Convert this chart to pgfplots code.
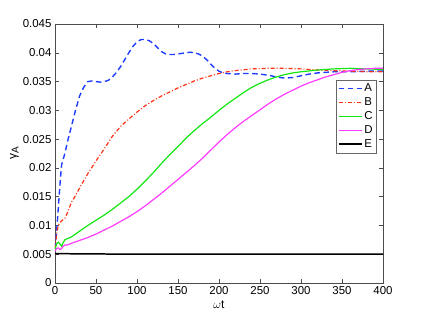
\documentclass[border=0pt]{standalone}
\usepackage{fontspec}
\setmainfont{Liberation Sans}
\usepackage{pgfplots}
\pgfplotsset{compat=1.18}
\definecolor{cA}{RGB}{30,60,255}
\definecolor{cB}{RGB}{255,50,20}
\definecolor{cC}{RGB}{20,230,20}
\definecolor{cD}{RGB}{255,60,255}
\begin{document}
\begin{tikzpicture}[font=\fontsize{11.5}{13}\selectfont]
\begin{axis}[
  scale only axis, width=328bp, height=259bp,
  xmin=0, xmax=400, ymin=0, ymax=0.045,
  xtick={0,50,...,400},
  ytick={0,0.005,0.01,0.015,0.02,0.025,0.03,0.035,0.04,0.045},
  yticklabels={0,0.005,0.01,0.015,0.02,0.025,0.03,0.035,0.04,0.045},
  scaled y ticks=false,
  tick align=inside, tick pos=both,
  major tick length=4bp,
  axis line style={black!70, line width=0.6pt},
  every tick/.style={black!70, line width=0.5pt},
  /pgf/number format/assume math mode=true,
  tick label style={font=\fontsize{11.5}{13}\selectfont},
  xlabel={\fontsize{12}{14}\selectfont$\omega$t},
  ylabel={\fontsize{12}{14}\selectfont γ\raisebox{-0.35ex}{\fontsize{10}{12}\selectfont A}},
  xlabel style={yshift=1bp},
  ylabel style={yshift=-3bp},
  legend style={at={(0.98,0.785)}, anchor=north east, draw=black!60, fill=white,
    font=\fontsize{11.5}{13}\selectfont, row sep=0.5bp, inner xsep=1.5bp, inner ysep=2bp},
  legend cell align=left,
  legend image code/.code={\draw[#1] plot coordinates {(0bp,0bp)(23bp,0bp)};},
]
\addplot[cA, line width=1.4pt, dash pattern=on 5.5bp off 3.5bp] coordinates {
(0,0.006)(2,0.009)(4,0.013)(6,0.017)(8,0.0205)(12,0.0225)(16,0.025)(20,0.0272)(25,0.030)(30,0.0325)(35,0.034)(40,0.035)(45,0.0351)(50,0.035)(55,0.0349)(60,0.0350)(65,0.0352)(70,0.0358)(75,0.0366)(80,0.0376)(85,0.0388)(90,0.0400)(95,0.0411)(100,0.0419)(105,0.0423)(110,0.0423)(115,0.0421)(120,0.0416)(125,0.0409)(130,0.0402)(135,0.0398)(140,0.0397)(145,0.0397)(150,0.0398)(155,0.0399)(160,0.0400)(165,0.0401)(170,0.0400)(175,0.0398)(180,0.0394)(185,0.0388)(190,0.0380)(195,0.0373)(200,0.0368)(205,0.0365)(210,0.0364)(220,0.0363)(230,0.0364)(240,0.0364)(250,0.0363)(260,0.0361)(270,0.0358)(280,0.0356)(290,0.0357)(300,0.0360)(310,0.0363)(320,0.0365)(340,0.0367)(360,0.0367)(380,0.0368)(400,0.0368)
};
\addlegendentry{A}
\addplot[cB, line width=1.2pt, dash pattern=on 4bp off 2bp on 1bp off 2bp] coordinates {
(0,0.006)(2,0.0085)(4,0.0100)(6,0.0105)(8,0.0108)(12,0.0112)(16,0.0125)(20,0.0140)(25,0.0152)(30,0.0165)(40,0.0190)(50,0.0212)(60,0.0233)(70,0.0255)(80,0.0272)(90,0.0285)(100,0.0297)(110,0.0308)(120,0.0317)(130,0.0325)(140,0.0332)(150,0.0339)(160,0.0345)(170,0.0351)(180,0.0356)(190,0.0360)(200,0.0364)(210,0.0367)(220,0.0369)(240,0.0372)(260,0.0373)(280,0.0373)(300,0.0372)(320,0.0370)(340,0.0369)(360,0.0368)(380,0.0367)(400,0.0367)
};
\addlegendentry{B}
\addplot[cC, line width=1.2pt] coordinates {
(0,0.0058)(2,0.0068)(4,0.0071)(6,0.0068)(8,0.0064)(10,0.0070)(12,0.0075)(15,0.0077)(20,0.0080)(30,0.0090)(40,0.0100)(50,0.0109)(60,0.0118)(70,0.0128)(80,0.0139)(90,0.0150)(100,0.0163)(110,0.0177)(120,0.0192)(130,0.0208)(140,0.0223)(150,0.0237)(160,0.0252)(170,0.0265)(180,0.0277)(190,0.0288)(200,0.0300)(210,0.0311)(220,0.0321)(230,0.0331)(240,0.0340)(250,0.0347)(260,0.0353)(270,0.0358)(280,0.0362)(290,0.0365)(300,0.0367)(320,0.0370)(340,0.0372)(360,0.0373)(380,0.0372)(400,0.0371)
};
\addlegendentry{C}
\addplot[cD, line width=1.2pt] coordinates {
(0,0.0055)(2,0.0060)(4,0.0061)(6,0.0058)(8,0.0060)(10,0.0064)(12,0.0066)(15,0.0066)(20,0.0069)(30,0.0074)(40,0.0079)(50,0.0085)(60,0.0092)(70,0.0099)(80,0.0107)(90,0.0115)(100,0.0124)(110,0.0134)(120,0.0145)(130,0.0156)(140,0.0168)(150,0.0180)(160,0.0192)(170,0.0204)(180,0.0217)(190,0.0231)(200,0.0245)(210,0.0258)(220,0.0270)(230,0.0281)(240,0.0291)(250,0.0301)(260,0.0311)(270,0.0320)(280,0.0328)(290,0.0335)(300,0.0342)(310,0.0348)(320,0.0353)(330,0.0358)(340,0.0362)(350,0.0366)(360,0.0369)(370,0.0371)(380,0.0372)(390,0.0373)(400,0.0373)
};
\addlegendentry{D}
\addplot[black, line width=1.5pt] coordinates {
(0,0.0051)(100,0.0050)(200,0.0050)(300,0.0050)(400,0.0050)
};
\addlegendentry{E}
\end{axis}
\path ([xshift=-55bp,yshift=-36bp]current axis.south west) rectangle ([xshift=41bp,yshift=24bp]current axis.north east);
\end{tikzpicture}
\end{document}
